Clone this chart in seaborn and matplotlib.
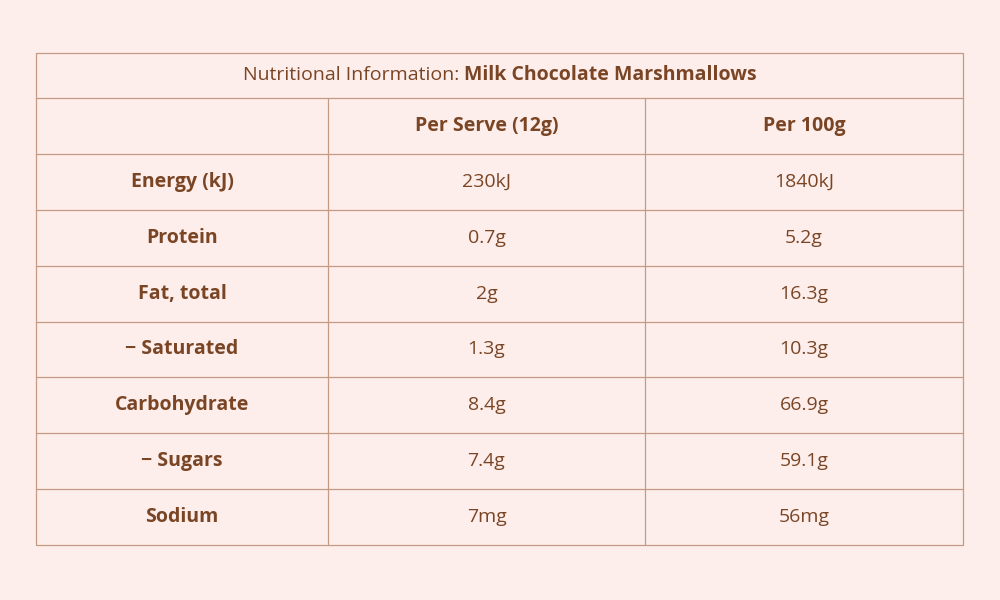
import matplotlib
matplotlib.use("Agg")
import matplotlib.pyplot as plt
import seaborn as sns

title_plain = "Nutritional Information: "
title_bold = "Milk Chocolate Marshmallows"
columns = ["Per Serve (12g)", "Per 100g"]
nutrients = ["Energy (kJ)", "Protein", "Fat, total", "\u2212 Saturated", "Carbohydrate", "\u2212 Sugars", "Sodium"]
per_serve = ["230kJ", "0.7g", "2g", "1.3g", "8.4g", "7.4g", "7mg"]
per_100g = ["1840kJ", "5.2g", "16.3g", "10.3g", "66.9g", "59.1g", "56mg"]

bg = "#FDEEEB"
fg = "#7A4525"
line = "#C49A84"
sns.set_theme(style="white", rc={"figure.facecolor": bg, "axes.facecolor": bg, "font.family": "Open Sans"})

fig = plt.figure(figsize=(10, 6), dpi=100)
ax = fig.add_axes([0, 0, 1, 1])
ax.set_xlim(0, 1000); ax.set_ylim(600, 0); ax.axis("off")

x0, x1, x2, x3 = 36, 328, 645, 963
ytop, ytitle = 53, 98
rh = (545 - 98) / 8
rows_y = [ytitle + i * rh for i in range(9)]
lw = 0.9
ax.plot([x0, x3, x3, x0, x0], [ytop, ytop, 545, 545, ytop], color=line, lw=lw)
for y in rows_y[:-1]:
    ax.plot([x0, x3], [y, y], color=line, lw=lw)
for x in (x1, x2):
    ax.plot([x, x], [ytitle, 545], color=line, lw=lw)

fs = 14
t = ax.text(0, 0, title_plain, fontsize=fs, color=fg)
t2 = ax.text(0, 0, title_bold, fontsize=fs, color=fg, fontweight="bold")
fig.canvas.draw()
r = fig.canvas.get_renderer()
w1 = t.get_window_extent(r).width; w2 = t2.get_window_extent(r).width
start = 500 - (w1 + w2) / 2
ty = (ytop + ytitle) / 2
t.set_position((start, ty)); t.set_va("center")
t2.set_position((start + w1, ty)); t2.set_va("center")

cx = [(x0 + x1) / 2, (x1 + x2) / 2, (x2 + x3) / 2]
hy = (rows_y[0] + rows_y[1]) / 2
for c, lab in zip(cx[1:], columns):
    ax.text(c, hy, lab, ha="center", va="center", fontsize=fs, color=fg, fontweight="bold")
for i, (n, a, b) in enumerate(zip(nutrients, per_serve, per_100g)):
    y = (rows_y[i + 1] + rows_y[i + 2]) / 2
    ax.text(cx[0], y, n, ha="center", va="center", fontsize=fs, color=fg, fontweight="bold")
    ax.text(cx[1], y, a, ha="center", va="center", fontsize=fs, color=fg)
    ax.text(cx[2], y, b, ha="center", va="center", fontsize=fs, color=fg)

fig.savefig("out.png", dpi=100, facecolor=bg)
